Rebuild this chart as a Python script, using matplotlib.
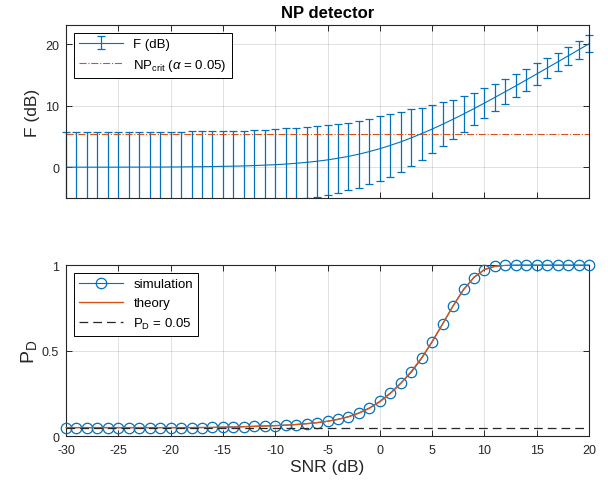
import numpy as np
import matplotlib
matplotlib.use("Agg")
import matplotlib.pyplot as plt
from matplotlib.patches import Rectangle

plt.rcParams['font.family'] = ['Liberation Sans', 'DejaVu Sans']
plt.rcParams['mathtext.fontset'] = 'custom'
plt.rcParams['mathtext.rm'] = 'Liberation Sans'
plt.rcParams['mathtext.it'] = 'Liberation Sans:italic'
plt.rcParams['axes.unicode_minus'] = False

# --- data ---
snr_db = list(range(-30, 21))

f_db = [0.00, 0.01, 0.01, 0.01, 0.01, 0.01, 0.02, 0.02, 0.03, 0.03,
        0.04, 0.05, 0.07, 0.09, 0.11, 0.14, 0.17, 0.21, 0.27, 0.34,
        0.41, 0.51, 0.64, 0.79, 0.97, 1.19, 1.46, 1.76, 2.12, 2.54,
        3.01, 3.54, 4.12, 4.76, 5.46, 6.19, 6.97, 7.79, 8.64, 9.51,
        10.41, 11.34, 12.27, 13.21, 14.17, 15.14, 16.11, 17.09, 18.07, 19.05,
        20.04]

f_err = [5.72, 5.72, 5.72, 5.72, 5.72, 5.72, 5.72, 5.72, 5.72, 5.72,
         5.72, 5.73, 5.73, 5.73, 5.74, 5.74, 5.75, 5.75, 5.75, 5.76,
         5.78, 5.79, 5.80, 5.80, 5.75, 5.68, 5.60, 5.49, 5.42, 5.33,
         5.25, 5.05, 4.87, 4.62, 4.22, 3.89, 3.54, 3.18, 2.86, 2.61,
         2.37, 2.18, 2.04, 1.88, 1.77, 1.72, 1.60, 1.52, 1.49, 1.42,
         1.39]

np_crit = 5.38

pd_sim = [0.050, 0.050, 0.050, 0.050, 0.050, 0.050, 0.050, 0.050, 0.050, 0.050,
          0.050, 0.050, 0.050, 0.050, 0.051, 0.053, 0.054, 0.056, 0.058, 0.060,
          0.062, 0.065, 0.068, 0.073, 0.079, 0.087, 0.099, 0.114, 0.136, 0.165,
          0.204, 0.252, 0.310, 0.372, 0.454, 0.550, 0.654, 0.762, 0.858, 0.926,
          0.973, 0.992, 0.998, 1.000, 1.000, 1.000, 1.000, 1.000, 1.000, 1.000,
          1.000]

pd_theory = [0.050, 0.050, 0.050, 0.050, 0.050, 0.050, 0.050, 0.050, 0.050, 0.050,
             0.050, 0.050, 0.050, 0.051, 0.051, 0.052, 0.053, 0.055, 0.057, 0.059,
             0.061, 0.064, 0.068, 0.073, 0.079, 0.087, 0.098, 0.113, 0.134, 0.163,
             0.201, 0.249, 0.308, 0.378, 0.458, 0.553, 0.656, 0.760, 0.855, 0.929,
             0.974, 0.993, 0.999, 1.000, 1.000, 1.000, 1.000, 1.000, 1.000, 1.000,
             1.000]

pd_ref = 0.05

blue = '#0072BD'
orange = '#D95319'
axcol = '#262626'

fig = plt.figure(figsize=(6.08, 4.89), dpi=100)
ax1 = fig.add_axes([0.1086, 0.593, 0.8602, 0.354])
ax2 = fig.add_axes([0.1086, 0.106, 0.8602, 0.350])

for ax in (ax1, ax2):
    ax.grid(True, color='k', alpha=0.12, linewidth=0.7)
    ax.set_axisbelow(True)
    ax.tick_params(direction='in', top=True, right=True, labelsize=9,
                   colors=axcol, length=4, width=0.7)
    ax.tick_params(axis='y', pad=5)
    ax.tick_params(axis='x', pad=6)
    for sp in ax.spines.values():
        sp.set_color(axcol)
        sp.set_linewidth(0.8)
    ax.set_xlim(-30, 20)
    ax.set_xticks(range(-30, 21, 5))

# ---- top: F statistic ----
eb = ax1.errorbar(snr_db, f_db, yerr=f_err, color=blue, linewidth=0.8,
                  elinewidth=0.9, capsize=2.6, capthick=0.9, label='F (dB)')
# let the end caps poke past the left/right edges like the original, but stay clipped in y
wide_clip = Rectangle((-0.02, 0), 1.04, 1, transform=ax1.transAxes,
                      facecolor='none', edgecolor='none')
ax1.add_patch(wide_clip)
for art in list(eb[1]) + list(eb[2]):
    art.set_clip_path(wide_clip)
crit = ax1.axhline(np_crit, color=orange, linestyle='-.', linewidth=0.8,
                   label=r'NP$_{\rm crit}$ ($\alpha$ = 0.05)')
ax1.set_ylim(-5, 23.1)
ax1.set_yticks([0, 10, 20])
ax1.set_xticklabels([])
ax1.set_ylabel('F (dB)', fontsize=12.5, color=axcol, labelpad=4)
ax1.set_title('NP detector', fontsize=12, fontweight='bold', pad=6)
leg1 = ax1.legend(handles=[eb, crit], loc='upper left', fontsize=9.5,
                  fancybox=False, framealpha=1, edgecolor='k', handlelength=3.3,
                  borderaxespad=0.6, labelspacing=0.5)
leg1.get_frame().set_linewidth(0.7)

# ---- bottom: detection probability ----
ax2.plot(snr_db, pd_sim, 'o-', color=blue, markerfacecolor='none',
         markersize=7.5, markeredgewidth=0.9, linewidth=0.8, label='simulation',
         clip_on=False, zorder=3)
ax2.plot(snr_db, pd_theory, '-', color=orange, linewidth=1.0, label='theory',
         zorder=4)
ax2.axhline(pd_ref, color=axcol, linestyle=(0, (7, 4)), linewidth=0.9,
            label=r'P$_{\rm D}$ = 0.05', zorder=5)
ax2.set_ylim(0, 1)
ax2.set_yticks([0, 0.5, 1])
ax2.set_yticklabels(['0', '0.5', '1'])
ax2.set_xlabel('SNR (dB)', fontsize=12.5, color=axcol, labelpad=2)
ax2.set_ylabel(r'P$_{\rm D}$', fontsize=14, color=axcol, labelpad=2)
leg2 = ax2.legend(loc='upper left', fontsize=9.5, fancybox=False, framealpha=1,
                  edgecolor='k', handlelength=3.3, borderaxespad=0.6,
                  labelspacing=0.5)
leg2.get_frame().set_linewidth(0.7)

fig.savefig('out.png', dpi=100)
